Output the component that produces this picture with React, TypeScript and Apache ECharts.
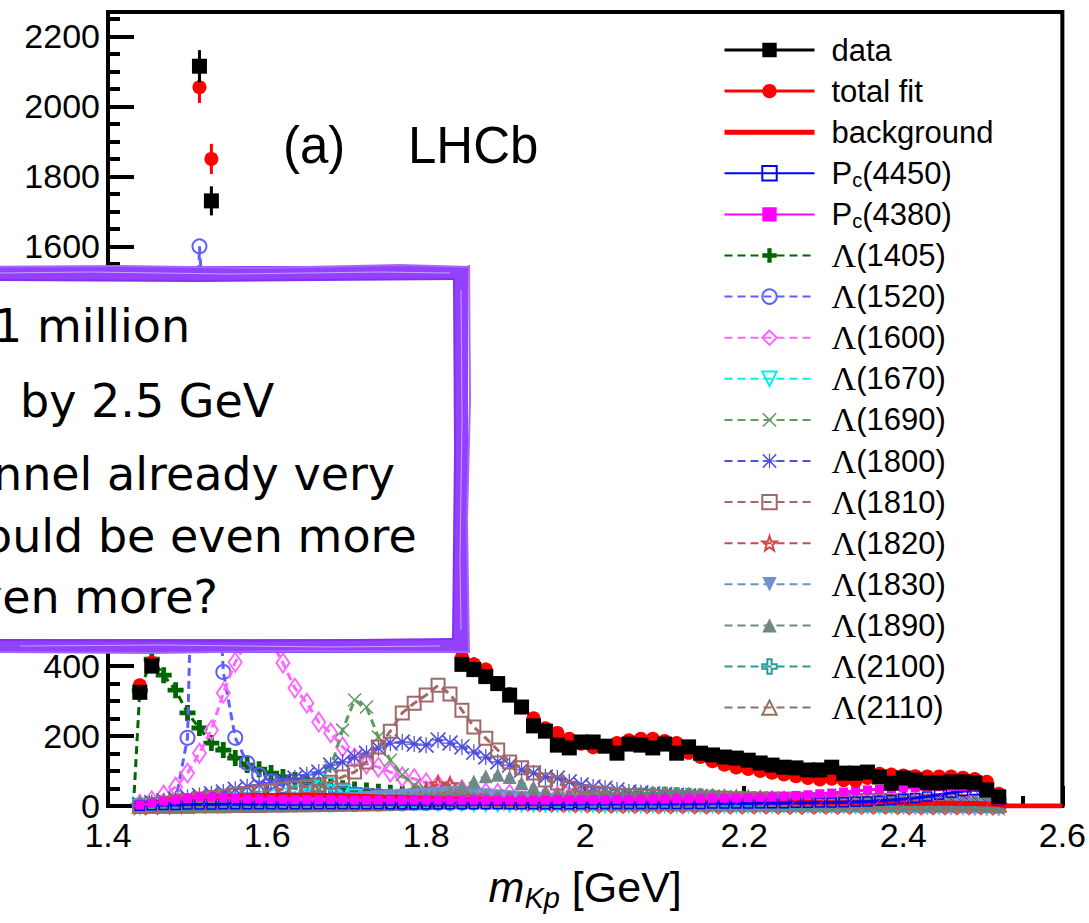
import React, { useEffect, useRef } from 'react';
import * as echarts from 'echarts';

// ---- binning (15 MeV bins of m_Kp) ----
const binStart = 1.44;
const binWidth = 0.015;
const threshold = 1.432;

// ---- data and fit (candidates per bin) ----
const dataCounts = [
  325, 400, 460, 560, 900, 2115, 1730, 1000, 780, 720,
  740, 760, 750, 720, 690, 670, 660, 690, 730, 700,
  690, 700, 720, 740, 760, 700, 560, 405, 390, 370,
  350, 317, 283, 229, 214, 174, 166, 183, 183, 171,
  151, 177, 174, 166, 177, 151, 169, 151, 146, 140,
  137, 131, 123, 117, 111, 109, 103, 103, 111, 94,
  94, 97, 83, 65, 80, 74, 66, 66, 69, 69,
  66, 46, 26,
];
const totalFit = [
  345, 410, 470, 580, 950, 2055, 1850, 960, 770, 730,
  745, 755, 745, 720, 695, 675, 670, 690, 720, 705,
  695, 700, 720, 740, 750, 690, 560, 425, 405, 390,
  352, 320, 282, 251, 222, 209, 192, 178, 168, 172,
  180, 188, 192, 192, 186, 180, 152, 140, 128, 118,
  110, 106, 100, 95, 90, 85, 80, 76, 78, 74,
  72, 80, 92, 90, 87, 85, 84, 84, 84, 81,
  77, 69, 35,
];
const background = [
  2, 8, 13, 17, 20, 23, 25, 27, 28, 29,
  30, 30, 31, 31, 31, 30, 30, 29, 28, 27,
  26, 25, 24, 23, 22, 21, 20, 19, 18, 17,
  17, 16, 16, 15, 15, 14, 14, 14, 13, 13,
  13, 12, 12, 12, 12, 11, 11, 11, 11, 11,
  10, 10, 10, 10, 10, 10, 10, 9, 9, 9,
  9, 9, 9, 9, 8, 8, 8, 8, 8, 7,
  7, 6, 4,
];
const bgTailX = [2.527, 2.6];
const bgTailY = [0, 0];
const pc4450 = [
  1, 2, 3, 3, 4, 4, 4, 5, 5, 5,
  5, 5, 5, 5, 5, 5, 5, 5, 5, 5,
  5, 5, 5, 5, 5, 5, 5, 5, 5, 5,
  5, 5, 5, 5, 5, 5, 5, 6, 6, 6,
  6, 6, 6, 6, 6, 6, 6, 6, 7, 7,
  7, 7, 8, 8, 8, 9, 9, 10, 10, 11,
  12, 13, 15, 17, 20, 23, 27, 32, 38, 42,
  46, 40, 15,
];
const pc4380 = [
  3, 8, 14, 18, 22, 26, 26, 24, 22, 20,
  20, 19, 19, 18, 18, 18, 18, 18, 17, 17,
  17, 17, 17, 17, 17, 17, 17, 17, 17, 17,
  17, 17, 17, 17, 17, 18, 18, 18, 18, 18,
  19, 19, 19, 20, 20, 20, 21, 21, 22, 22,
  23, 24, 25, 26, 28, 30, 32, 35, 37, 40,
  43, 46, 48, 50, 51, 52, 54, 55, 56, 56,
  55, 42, 15,
];
const l1405 = [
  330, 420, 374, 331, 266, 223, 180, 160, 137, 117,
  105, 94, 83, 74, 66, 60, 55, 51, 47, 44,
  41, 38, 35, 33, 31, 29, 27, 25, 23, 21,
  20, 19, 18, 17, 16, 15, 14, 13, 12, 12,
  11, 11, 10, 10, 9, 9, 9, 8, 8, 8,
  7, 7, 7, 7, 6, 6, 6, 6, 5, 5,
  5, 5, 5, 4, 4, 4, 4, 4, 3, 3,
  3, 3, 2,
];
const l1520 = [
  0, 0, 2, 15, 195, 1600, 1050, 383, 195, 123,
  89, 70, 58, 50, 45, 41, 38, 35, 33, 31,
  29, 27, 26, 25, 24, 23, 22, 21, 20, 19,
  18, 17, 16, 16, 15, 15, 14, 14, 13, 13,
  12, 12, 11, 11, 11, 10, 10, 10, 9, 9,
  9, 8, 8, 8, 8, 7, 7, 7, 7, 6,
  6, 6, 6, 6, 5, 5, 5, 5, 5, 4,
  4, 4, 3,
];
const l1600 = [
  5, 15, 31, 54, 94, 151, 217, 323, 411, 470,
  490, 470, 409, 337, 294, 240, 209, 169, 137, 120,
  111, 97, 83, 78, 66, 60, 54, 46, 40, 38,
  36, 34, 32, 30, 29, 28, 27, 26, 25, 24,
  23, 22, 21, 20, 19, 18, 17, 16, 15, 14,
  13, 12, 12, 11, 11, 10, 10, 9, 9, 8,
  8, 7, 7, 6, 6, 5, 5, 5, 4, 4,
  3, 3, 2,
];
const l1670 = [
  0, 2, 4, 6, 8, 10, 12, 14, 16, 18,
  21, 25, 30, 38, 52, 72, 60, 40, 27, 20,
  16, 13, 11, 10, 9, 8, 7, 7, 6, 6,
  5, 5, 5, 5, 4, 4, 4, 4, 4, 3,
  3, 3, 3, 3, 3, 3, 3, 2, 2, 2,
  2, 2, 2, 2, 2, 2, 2, 2, 2, 2,
  1, 1, 1, 1, 1, 1, 1, 1, 1, 1,
  1, 1, 0,
];
const l1690 = [
  0, 1, 2, 3, 4, 5, 6, 7, 8, 9,
  10, 12, 14, 17, 30, 45, 110, 217, 303, 283,
  197, 131, 89, 60, 45, 35, 28, 22, 18, 15,
  13, 11, 10, 9, 8, 7, 7, 6, 6, 5,
  5, 5, 4, 4, 4, 4, 3, 3, 3, 3,
  3, 3, 2, 2, 2, 2, 2, 2, 2, 2,
  2, 2, 1, 1, 1, 1, 1, 1, 1, 1,
  1, 1, 0,
];
const l1800 = [
  5, 10, 15, 20, 25, 30, 35, 40, 48, 55,
  60, 66, 72, 80, 89, 97, 117, 126, 140, 151,
  166, 180, 183, 177, 174, 189, 180, 169, 154, 140,
  126, 117, 103, 94, 83, 80, 69, 60, 54, 51,
  46, 40, 38, 35, 33, 31, 29, 27, 25, 23,
  22, 21, 20, 19, 18, 17, 16, 15, 14, 13,
  12, 12, 11, 11, 10, 10, 9, 9, 8, 8,
  7, 6, 3,
];
const l1810 = [
  0, 4, 8, 12, 16, 20, 24, 28, 32, 36,
  40, 44, 48, 52, 56, 60, 68, 83, 97, 126,
  169, 214, 266, 294, 317, 345, 320, 274, 226, 194,
  160, 126, 109, 94, 74, 66, 51, 40, 37, 34,
  31, 29, 28, 27, 26, 25, 24, 23, 22, 22,
  21, 21, 20, 20, 19, 19, 18, 18, 17, 17,
  16, 16, 16, 15, 15, 15, 14, 14, 14, 13,
  12, 10, 5,
];
const l1820 = [
  0, 1, 2, 3, 4, 5, 6, 7, 8, 9,
  10, 10, 11, 11, 12, 12, 13, 14, 15, 17,
  19, 22, 26, 32, 45, 62, 60, 45, 30, 22,
  17, 14, 12, 10, 9, 8, 7, 7, 6, 6,
  5, 5, 5, 4, 4, 4, 4, 3, 3, 3,
  3, 3, 3, 3, 2, 2, 2, 2, 2, 2,
  2, 2, 2, 2, 1, 1, 1, 1, 1, 1,
  1, 1, 0,
];
const l1830 = [
  0, 1, 2, 3, 4, 5, 6, 7, 8, 9,
  10, 11, 12, 13, 14, 15, 17, 19, 21, 23,
  25, 27, 29, 31, 33, 35, 37, 36, 34, 31,
  28, 25, 22, 19, 17, 15, 13, 12, 11, 10,
  9, 8, 8, 7, 7, 6, 6, 6, 5, 5,
  5, 4, 4, 4, 4, 3, 3, 3, 3, 3,
  3, 2, 2, 2, 2, 2, 2, 2, 2, 1,
  1, 1, 0,
];
const l1890 = [
  0, 1, 1, 2, 2, 3, 3, 4, 4, 5,
  5, 6, 6, 7, 8, 9, 10, 11, 12, 14,
  16, 18, 20, 23, 27, 31, 40, 55, 70, 85,
  89, 83, 66, 54, 40, 32, 26, 21, 18, 15,
  13, 12, 11, 10, 9, 8, 8, 7, 7, 6,
  6, 5, 5, 5, 4, 4, 4, 4, 3, 3,
  3, 3, 3, 3, 2, 2, 2, 2, 2, 2,
  2, 1, 0,
];
const l2100 = [
  0, 0, 1, 1, 1, 2, 2, 2, 3, 3,
  3, 4, 4, 4, 5, 5, 5, 6, 6, 7,
  7, 8, 8, 9, 9, 10, 10, 11, 12, 13,
  14, 15, 16, 17, 18, 19, 20, 21, 22, 24,
  26, 28, 30, 31, 32, 31, 29, 27, 24, 21,
  19, 17, 15, 14, 13, 12, 11, 10, 10, 9,
  9, 8, 8, 7, 7, 7, 6, 6, 6, 5,
  5, 4, 2,
];
const l2110 = [
  0, 0, 1, 1, 1, 2, 2, 2, 3, 3,
  3, 4, 4, 5, 5, 6, 6, 7, 7, 8,
  8, 9, 10, 11, 12, 13, 14, 15, 16, 17,
  18, 19, 20, 21, 22, 23, 24, 25, 26, 27,
  28, 29, 30, 30, 30, 29, 28, 27, 26, 25,
  24, 23, 22, 21, 20, 19, 18, 17, 16, 15,
  14, 14, 13, 13, 12, 12, 11, 11, 10, 10,
  9, 8, 4,
];

// y tick labels that the overlay note hides in the reference
const hiddenYLabels = [600, 800, 1000, 1200, 1400];

// ---- overlay note lines (left part cut off in the reference) ----
const noteLines = ['1 million', 'by 2.5 GeV', 'nnel already very', 'ould be even more', 'ven more?'];

const FONT = 'Liberation Sans';
const PURPLE = '#9440ff';

const SYM_PLUS = 'path://M7,0H13V7H20V13H13V20H7V13H0V7H7Z';
const SYM_X = 'path://M1.5,0L10,8.5L18.5,0L20,1.5L11.5,10L20,18.5L18.5,20L10,11.5L1.5,20L0,18.5L8.5,10L0,1.5Z';
const SYM_AST = 'path://M1.5,0L10,8.5L18.5,0L20,1.5L11.5,10L20,18.5L18.5,20L10,11.5L1.5,20L0,18.5L8.5,10L0,1.5Z M9.2,0H10.8V20H9.2Z M0,9.2H20V10.8H0Z';
const SYM_STAR = 'path://M10,0L12.35,6.9L19.5,6.9L13.8,11.2L15.9,18.1L10,14L4.1,18.1L6.2,11.2L0.5,6.9L7.65,6.9Z';

const components = [
  { name: 'Λ(1405)', vals: l1405, color: '#006600', symbol: SYM_PLUS, size: 16, open: false, rot: 0 },
  { name: 'Λ(1520)', vals: l1520, color: '#5f5fff', symbol: 'circle', size: 14, open: true, rot: 0 },
  { name: 'Λ(1600)', vals: l1600, color: '#ff66ff', symbol: 'diamond', size: [13, 19], open: true, rot: 0 },
  { name: 'Λ(1670)', vals: l1670, color: '#00f0f0', symbol: 'triangle', size: 14, open: true, rot: 180 },
  { name: 'Λ(1690)', vals: l1690, color: '#5f9a5f', symbol: SYM_X, size: 14, open: false, rot: 0 },
  { name: 'Λ(1800)', vals: l1800, color: '#5050e0', symbol: SYM_AST, size: 16, open: false, rot: 0 },
  { name: 'Λ(1810)', vals: l1810, color: '#a06868', symbol: 'rect', size: 13, open: true, rot: 0 },
  { name: 'Λ(1820)', vals: l1820, color: '#d04848', symbol: SYM_STAR, size: 15, open: true, rot: 0 },
  { name: 'Λ(1830)', vals: l1830, color: '#7090d0', symbol: 'triangle', size: 14, open: false, rot: 180 },
  { name: 'Λ(1890)', vals: l1890, color: '#708888', symbol: 'triangle', size: 14, open: false, rot: 0 },
  { name: 'Λ(2100)', vals: l2100, color: '#2a9a9a', symbol: SYM_PLUS, size: 14, open: true, rot: 0 },
  { name: 'Λ(2110)', vals: l2110, color: '#957060', symbol: 'triangle', size: 14, open: true, rot: 0 },
];

const xOf = (i: number) => binStart + i * binWidth;
const mk = (vals: number[]) => vals.map((v, i) => [xOf(i), v]);
const mkComp = (vals: number[]) => [{ value: [threshold, 0], symbol: 'none' }, ...mk(vals)];

function hatchCanvas(color: string, step: number, back: boolean) {
  const c = document.createElement('canvas');
  c.width = step;
  c.height = step;
  const ctx = c.getContext('2d')!;
  ctx.strokeStyle = color;
  ctx.lineWidth = 1;
  ctx.beginPath();
  if (back) {
    ctx.moveTo(0, 0);
    ctx.lineTo(step, step);
  } else {
    ctx.moveTo(0, step);
    ctx.lineTo(step, 0);
  }
  ctx.stroke();
  return c;
}

const errRender = (color: string, width: number) => (params: any, api: any) => {
  const x = api.value(0);
  const y = api.value(1);
  const e = api.value(2);
  const p1 = api.coord([x, y - e]);
  const p2 = api.coord([x, y + e]);
  return {
    type: 'line',
    shape: { x1: p1[0], y1: p1[1], x2: p2[0], y2: p2[1] },
    style: { stroke: color, lineWidth: width },
  };
};

const legendFmt = (name: string) => {
  if (name.startsWith('Λ')) return `{l|Λ}{t|${name.slice(1)}}`;
  if (name.startsWith('Pc')) return `{t|P}{s|c}{t|${name.slice(2)}}`;
  return `{t|${name}}`;
};

export default function App() {
  const ref = useRef<HTMLDivElement>(null);
  useEffect(() => {
    if (!ref.current) return;
    const chart = echarts.init(ref.current, null, { renderer: 'svg' });

    const compSeries = components.map((c, k) => ({
      name: c.name,
      type: 'line',
      data: mkComp(c.vals),
      symbol: c.symbol,
      symbolSize: c.size,
      symbolRotate: c.rot,
      lineStyle: { color: c.color, width: 3, type: [8, 5] },
      itemStyle: c.open
        ? { color: 'rgba(255,255,255,0)', borderColor: c.color, borderWidth: 2 }
        : { color: c.color, borderColor: c.color, borderWidth: 0 },
      z: 2 + k * 0.01,
      silent: true,
    }));

    const dataPts = mk(dataCounts);
    const fitPts = mk(totalFit);
    const bgPts = [...mk(background), ...bgTailX.map((x, i) => [x, bgTailY[i]])];

    const option: any = {
      animation: false,
      backgroundColor: '#fff',
      grid: { left: 108, right: 21, top: 12, bottom: 117, show: true, borderColor: '#000', borderWidth: 4 },
      xAxis: {
        type: 'value',
        min: 1.4,
        max: 2.6,
        interval: 0.2,
        axisLine: { show: true, lineStyle: { color: '#000', width: 4 } },
        axisTick: { show: true, inside: true, length: 20, lineStyle: { color: '#000', width: 4 } },
        minorTick: { show: true, splitNumber: 4, length: 10, lineStyle: { color: '#000', width: 4 } },
        splitLine: { show: false },
        axisLabel: { color: '#000', fontFamily: FONT, fontSize: 34, lineHeight: 26, margin: 16 },
        name: '{i|m}{s|Kp}{t| [GeV]}',
        nameLocation: 'middle',
        nameGap: 56,
        nameTextStyle: {
          color: '#000',
          rich: {
            i: { fontFamily: FONT, fontStyle: 'italic', fontSize: 43, lineHeight: 50 },
            s: { fontFamily: FONT, fontStyle: 'italic', fontSize: 29, lineHeight: 20, verticalAlign: 'bottom' },
            t: { fontFamily: FONT, fontSize: 43, lineHeight: 50 },
          },
        },
      },
      yAxis: {
        type: 'value',
        min: 0,
        max: 2270,
        interval: 200,
        axisLine: { show: true, lineStyle: { color: '#000', width: 4 } },
        axisTick: { show: true, inside: true, length: 26, lineStyle: { color: '#000', width: 4 } },
        minorTick: { show: true, splitNumber: 4, length: 12, lineStyle: { color: '#000', width: 4 } },
        splitLine: { show: false },
        axisLabel: {
          color: '#000',
          fontFamily: FONT,
          fontSize: 34,
          lineHeight: 26,
          margin: 8,
          formatter: (v: number) => (hiddenYLabels.includes(Math.round(v)) ? '' : String(Math.round(v))),
        },
      },
      legend: {
        orient: 'vertical',
        left: 722,
        top: 33,
        padding: 0,
        itemWidth: 90,
        itemHeight: 18,
        itemGap: 7.1,
        selectedMode: false,
        formatter: legendFmt,
        textStyle: {
          color: '#000',
          fontFamily: FONT,
          fontSize: 31,
          lineHeight: 34,
          padding: [0, 0, 0, 12],
          rich: {
            t: { fontFamily: FONT, fontSize: 31, lineHeight: 34, color: '#000' },
            l: { fontFamily: 'Liberation Serif', fontSize: 34, lineHeight: 34, color: '#000' },
            s: { fontFamily: FONT, fontSize: 20, lineHeight: 12, verticalAlign: 'bottom', color: '#000' },
          },
        },
        data: [
          { name: 'data', lineStyle: { opacity: 1, width: 3, color: '#000', type: 'solid' } },
          { name: 'total fit', lineStyle: { opacity: 1, width: 3, color: '#ff0000', type: 'solid' } },
          { name: 'background', itemStyle: { opacity: 0 }, lineStyle: { width: 5, color: '#ff0000' } },
          'Pc(4450)',
          'Pc(4380)',
          ...components.map((c) => c.name),
        ],
      },
      series: [
        ...compSeries,
        {
          name: 'background',
          type: 'line',
          data: bgPts,
          symbol: 'none',
          lineStyle: { color: '#ff0000', width: 5 },
          itemStyle: { color: '#ff0000' },
          z: 3,
          silent: true,
        },
        {
          name: 'Pc(4450)',
          type: 'line',
          data: mkComp(pc4450),
          symbol: 'rect',
          symbolSize: 9,
          lineStyle: { color: '#0000ff', width: 3 },
          itemStyle: { color: 'rgba(255,255,255,0)', borderColor: '#0000ff', borderWidth: 1.5 },
          areaStyle: { color: { image: hatchCanvas('#3344ff', 8, true), repeat: 'repeat' }, opacity: 1 },
          z: 3,
          silent: true,
        },
        {
          name: 'Pc(4380)',
          type: 'line',
          data: mkComp(pc4380),
          symbol: 'rect',
          symbolSize: 9,
          lineStyle: { color: '#ff00ff', width: 3 },
          itemStyle: { color: '#ff00ff' },
          areaStyle: { color: { image: hatchCanvas('#ff00ff', 28, false), repeat: 'repeat' }, opacity: 1 },
          z: 3.1,
          silent: true,
        },
        {
          name: 'fitErr',
          type: 'custom',
          data: fitPts.map((p) => [p[0], p[1], Math.sqrt(p[1])]),
          renderItem: errRender('#ff0000', 3),
          encode: { x: 0, y: 1 },
          z: 4,
          silent: true,
        },
        {
          name: 'total fit',
          type: 'line',
          data: fitPts,
          symbol: 'circle',
          symbolSize: 14,
          lineStyle: { color: '#ff0000', width: 3, opacity: 0 },
          itemStyle: { color: '#ff0000' },
          z: 4.1,
          silent: true,
        },
        {
          name: 'dataErr',
          type: 'custom',
          data: dataPts.map((p) => [p[0], p[1], Math.sqrt(p[1])]),
          renderItem: errRender('#000000', 3),
          encode: { x: 0, y: 1 },
          z: 5,
          silent: true,
        },
        {
          name: 'data',
          type: 'line',
          data: dataPts,
          symbol: 'rect',
          symbolSize: 15,
          lineStyle: { color: '#000', width: 3, opacity: 0 },
          itemStyle: { color: '#000' },
          z: 5.1,
          silent: true,
        },
      ],
      graphic: [
        {
          type: 'text', x: 283, y: 145, z: 20,
          style: { text: '(a)', font: `51px "${FONT}"`, fill: '#000', verticalAlign: 'middle' },
        },
        {
          type: 'text', x: 408, y: 145, z: 20,
          style: { text: 'LHCb', font: `51px "${FONT}"`, fill: '#000', verticalAlign: 'middle' },
        },
        {
          type: 'text', x: 13, y: 452, z: 20, rotation: Math.PI / 2,
          style: { text: 'Candidates/(15 MeV)', font: `40px "${FONT}"`, fill: '#000', align: 'center', verticalAlign: 'bottom' },
        },
        {
          type: 'rect', z: 100,
          shape: { x: -20, y: 273, width: 481, height: 373 },
          style: { fill: '#fff', stroke: PURPLE, lineWidth: 14 },
        },
        { type: 'polyline', z: 101, shape: { points: [[-20, 267], [120, 266], [260, 268], [400, 265], [469, 267]] }, style: { stroke: '#a766ff', lineWidth: 2, fill: 'none' } },
        { type: 'polyline', z: 101, shape: { points: [[-20, 280], [200, 281], [455, 279]] }, style: { stroke: '#8430f0', lineWidth: 2, fill: 'none' } },
        { type: 'polyline', z: 101, shape: { points: [[0, 273], [90, 272], [230, 274], [380, 272], [450, 273]] }, style: { stroke: '#c9a2ff', lineWidth: 1, fill: 'none' } },
        { type: 'polyline', z: 101, shape: { points: [[469, 265], [470, 400], [467, 520], [469, 653]] }, style: { stroke: '#a766ff', lineWidth: 2, fill: 'none' } },
        { type: 'polyline', z: 101, shape: { points: [[454, 280], [455, 450], [453, 640]] }, style: { stroke: '#8430f0', lineWidth: 2, fill: 'none' } },
        { type: 'polyline', z: 101, shape: { points: [[461, 290], [462, 420], [460, 560], [461, 630]] }, style: { stroke: '#c9a2ff', lineWidth: 1, fill: 'none' } },
        { type: 'polyline', z: 101, shape: { points: [[-20, 652], [150, 653], [300, 651], [469, 652]] }, style: { stroke: '#a766ff', lineWidth: 2, fill: 'none' } },
        { type: 'polyline', z: 101, shape: { points: [[-20, 640], [250, 641], [454, 639]] }, style: { stroke: '#8430f0', lineWidth: 2, fill: 'none' } },
        { type: 'polyline', z: 101, shape: { points: [[20, 646], [160, 645], [330, 647], [440, 646]] }, style: { stroke: '#c9a2ff', lineWidth: 1, fill: 'none' } },
        ...noteLines.map((t, i) => ({
          type: 'text',
          z: 102,
          x: [-7, 20, -7, -16, -25][i],
          y: [326, 401, 474, 536, 597][i],
          style: { text: t, font: '46px "DejaVu Sans"', fill: '#000', verticalAlign: 'middle' },
        })),
      ],
    };

    chart.setOption(option);
    return () => chart.dispose();
  }, []);

  return (
    <div
      ref={ref}
      style={{ position: 'absolute', left: 0, top: 0, width: 1089, height: 923, background: '#fff' }}
    />
  );
}
